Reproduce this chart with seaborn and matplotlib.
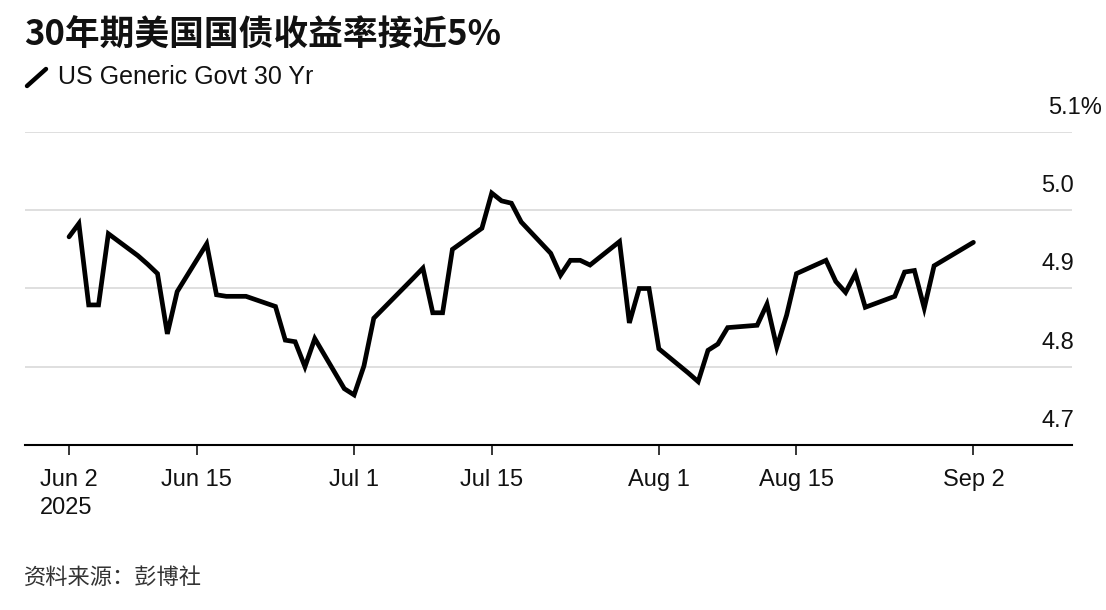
import pandas as pd
import matplotlib
matplotlib.use("Agg")
import matplotlib.pyplot as plt
import matplotlib.dates as mdates
import matplotlib.transforms as mtransforms
from matplotlib.lines import Line2D
import seaborn as sns

# daily closes, US Generic Govt 30 Yr (%)
dates = ["2025-06-02", "2025-06-03", "2025-06-04", "2025-06-05", "2025-06-06",
         "2025-06-09", "2025-06-10", "2025-06-11", "2025-06-12", "2025-06-13",
         "2025-06-16", "2025-06-17", "2025-06-18", "2025-06-20",
         "2025-06-23", "2025-06-24", "2025-06-25", "2025-06-26", "2025-06-27",
         "2025-06-30", "2025-07-01", "2025-07-02", "2025-07-03",
         "2025-07-07", "2025-07-08", "2025-07-09", "2025-07-10", "2025-07-11",
         "2025-07-14", "2025-07-15", "2025-07-16", "2025-07-17", "2025-07-18",
         "2025-07-21", "2025-07-22", "2025-07-23", "2025-07-24", "2025-07-25",
         "2025-07-28", "2025-07-29", "2025-07-30", "2025-07-31", "2025-08-01",
         "2025-08-04", "2025-08-05", "2025-08-06", "2025-08-07", "2025-08-08",
         "2025-08-11", "2025-08-12", "2025-08-13", "2025-08-14", "2025-08-15",
         "2025-08-18", "2025-08-19", "2025-08-20", "2025-08-21", "2025-08-22",
         "2025-08-25", "2025-08-26", "2025-08-27", "2025-08-28", "2025-08-29",
         "2025-09-02"]
yields = [4.966, 4.983, 4.879, 4.879, 4.970,
          4.942, 4.931, 4.919, 4.842, 4.896,
          4.957, 4.892, 4.890, 4.890,
          4.877, 4.834, 4.832, 4.800, 4.836,
          4.772, 4.764, 4.801, 4.862,
          4.913, 4.926, 4.869, 4.869, 4.950,
          4.977, 5.022, 5.012, 5.009, 4.985,
          4.945, 4.917, 4.936, 4.936, 4.930,
          4.960, 4.856, 4.900, 4.900, 4.823,
          4.792, 4.781, 4.821, 4.829, 4.850,
          4.853, 4.880, 4.825, 4.866, 4.919,
          4.936, 4.909, 4.895, 4.919, 4.876,
          4.890, 4.921, 4.923, 4.875, 4.929,
          4.959]

y_ticks = [4.7, 4.8, 4.9, 5.0, 5.1]
y_labels = ["4.7", "4.8", "4.9", "5.0", "5.1%"]
x_ticks = ["2025-06-02", "2025-06-15", "2025-07-01", "2025-07-15",
           "2025-08-01", "2025-08-15", "2025-09-02"]
x_labels = ["Jun 2\n2025", "Jun 15", "Jul 1", "Jul 15", "Aug 1", "Aug 15", "Sep 2"]

title = "30年期美国国债收益率接近5%"
series_name = "US Generic Govt 30 Yr"
source = "资料来源：彭博社"

sns.set_theme(style="white")
plt.rcParams['font.family'] = ['Liberation Sans', 'Noto Sans CJK SC', 'DejaVu Sans']

df = pd.DataFrame({"date": pd.to_datetime(dates), "yield": yields})

W, H = 1106, 610
fig = plt.figure(figsize=(W / 100, H / 100), dpi=100)
fig.patch.set_facecolor("white")
ax = fig.add_axes([25 / W, 1 - 445 / H, 1047 / W, 313 / H])
ax.set_facecolor("white")

for v in y_ticks[1:]:
    ax.axhline(v, color="#d6d6d6", lw=1.1, zorder=1)

sns.lineplot(data=df, x="date", y="yield", ax=ax, color="black", lw=3.4,
             estimator=None, zorder=3)
ax.lines[-1].set_solid_joinstyle("miter")

# x range: about 9.83 px per day
t0 = mdates.date2num(pd.Timestamp("2025-06-02"))
ax.set_xlim(t0 - 4.48, t0 + 102.03)
ax.set_ylim(4.7, 5.1)

for side in ["top", "left", "right"]:
    ax.spines[side].set_visible(False)
ax.spines["bottom"].set_color("black")
ax.spines["bottom"].set_linewidth(1.5)

ax.set_xticks([mdates.date2num(pd.Timestamp(d)) for d in x_ticks])
ax.set_xticklabels(x_labels, fontsize=17, color="#111111")
ax.tick_params(axis="x", bottom=True, length=7.2, width=1.1, color="black", pad=10)
for lab in ax.get_xticklabels():
    lab.set_linespacing(1.35)
    lab.set_multialignment("left")
ax.set_yticks([])
ax.set_xlabel("")
ax.set_ylabel("")

# y labels sit above their grid lines on the right
lab_tr = mtransforms.offset_copy(ax.get_yaxis_transform(), fig=fig, y=24, units="dots")
for v, s in zip(y_ticks, y_labels):
    x = 0.977 if s.endswith("%") else 0.9704
    ax.text(x, v, s, transform=lab_tr, ha="left", va="center", fontsize=17,
            color="#111111", clip_on=False)

fig.text(24 / W, 1 - 35 / H, title, fontsize=25, fontweight="heavy", va="center",
         color="#111111", family=["Noto Sans CJK SC", "DejaVu Sans"])
fig.add_artist(Line2D([27 / W, 46 / W], [1 - 86 / H, 1 - 69 / H], color="black",
                      lw=3.2, solid_capstyle="round"))
fig.text(58 / W, 1 - 77 / H, series_name, fontsize=18, va="center", color="#111111")
fig.text(24 / W, 1 - 577 / H, source, fontsize=16, va="center", color="#333333",
         family=["Noto Sans CJK SC", "DejaVu Sans"])

fig.savefig("out.png", dpi=100, facecolor="white")
